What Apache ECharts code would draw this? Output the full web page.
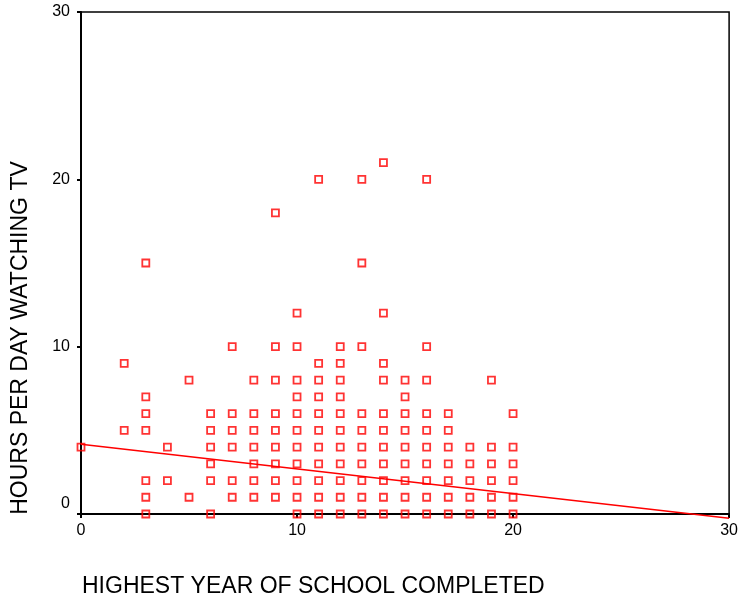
<!DOCTYPE html>
<html>
<head>
<meta charset="utf-8">
<script src="https://cdn.jsdelivr.net/npm/echarts@6/dist/echarts.min.js"></script>
<style>
html,body{margin:0;padding:0;background:#fff;}
#chart{width:741px;height:604px;}
</style>
</head>
<body>
<div id="chart"></div>
<script>
// Data
const schoolYears = [0, 2, 3, 4, 5, 6, 7, 8, 9, 10, 11, 12, 13, 14, 15, 16, 17, 18, 19, 20];
const tvHoursByYear = [
  [4],
  [9, 5],
  [15, 7, 6, 5, 2, 1, 0],
  [4, 2],
  [8, 1],
  [6, 5, 4, 3, 2, 0],
  [10, 6, 5, 4, 2, 1],
  [8, 6, 5, 4, 3, 2, 1],
  [18, 10, 8, 6, 5, 4, 3, 2, 1],
  [12, 10, 8, 7, 6, 5, 4, 3, 2, 1, 0],
  [20, 9, 8, 7, 6, 5, 4, 3, 2, 1, 0],
  [10, 9, 8, 7, 6, 5, 4, 3, 2, 1, 0],
  [20, 15, 10, 6, 5, 4, 3, 2, 1, 0],
  [21, 12, 9, 8, 6, 5, 4, 3, 2, 1, 0],
  [8, 7, 6, 5, 4, 3, 2, 1, 0],
  [20, 10, 8, 6, 5, 4, 3, 2, 1, 0],
  [6, 5, 4, 3, 2, 1, 0],
  [4, 3, 2, 1, 0],
  [8, 4, 3, 2, 1, 0],
  [6, 4, 3, 2, 1, 0]
];
const fitLineX = [0, 30];
const fitLineY = [4.17, -0.26];
const xTicks = [0, 10, 20, 30];
const yTicks = [0, 10, 20, 30];
const xTitle = 'HIGHEST YEAR OF SCHOOL COMPLETED';
const yTitle = 'HOURS PER DAY WATCHING TV';

const points = [];
schoolYears.forEach((x, i) => {
  tvHoursByYear[i].forEach(y => points.push([x, y]));
});
const fitData = fitLineX.map((x, i) => [x, fitLineY[i]]);

const FONT = '"Liberation Sans", Arial, sans-serif';
const chart = echarts.init(document.getElementById('chart'), null, {renderer: 'canvas'});
chart.setOption({
  animation: false,
  backgroundColor: '#fff',
  grid: {
    left: 81, right: 11, top: 12, bottom: 90,
    show: true, borderColor: '#000', borderWidth: 1.5, backgroundColor: 'transparent'
  },
  xAxis: {
    type: 'value', min: xTicks[0], max: xTicks[xTicks.length - 1], interval: 10,
    splitLine: {show: false},
    axisLine: {show: true, onZero: false, lineStyle: {color: '#000', width: 2}},
    axisTick: {show: true, length: 4, lineStyle: {color: '#000', width: 2}},
    axisLabel: {color: '#000', fontFamily: FONT, fontSize: 16, margin: 9}
  },
  yAxis: {
    type: 'value', min: yTicks[0], max: yTicks[yTicks.length - 1], interval: 10,
    splitLine: {show: false},
    axisLine: {show: true, onZero: false, lineStyle: {color: '#000', width: 2}},
    axisTick: {show: true, length: 4, lineStyle: {color: '#000', width: 2}},
    axisLabel: {
      color: '#000', fontFamily: FONT, fontSize: 16, margin: 11,
      formatter: v => v === 0 ? '{z|0}' : String(v),
      rich: {z: {fontFamily: FONT, fontSize: 16, color: '#000', padding: [0, 0, 20, 0]}}
    }
  },
  graphic: [
    {
      type: 'text', x: 82, y: 587,
      style: {text: xTitle, font: '23px ' + FONT, fill: '#000', align: 'left', verticalAlign: 'middle'}
    },
    {
      type: 'text', x: 21, y: 338, rotation: Math.PI / 2,
      style: {text: yTitle, font: '23px ' + FONT, fill: '#000', align: 'center', verticalAlign: 'middle'}
    }
  ],
  series: [
    {
      type: 'scatter',
      data: points,
      symbol: 'rect',
      symbolSize: 7,
      itemStyle: {color: 'rgba(0,0,0,0)', borderColor: '#ff0000', borderWidth: 1.8},
      z: 3
    },
    {
      type: 'line',
      data: fitData,
      symbol: 'none',
      clip: false,
      lineStyle: {color: '#ff0000', width: 1.5},
      z: 4
    }
  ]
});
</script>
</body>
</html>
